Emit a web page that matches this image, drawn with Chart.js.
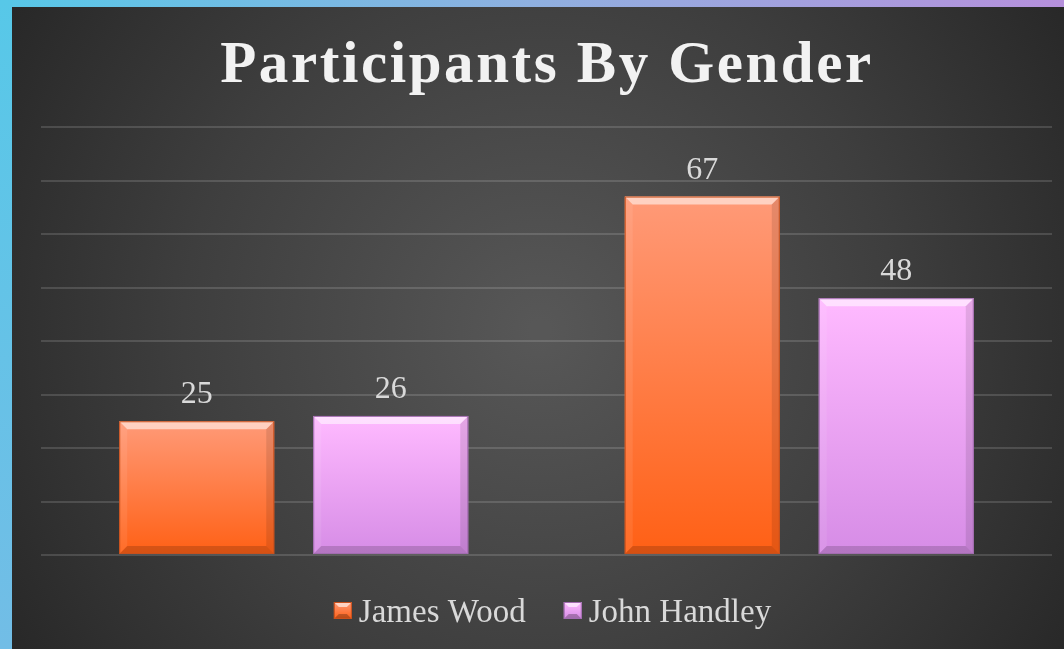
<!DOCTYPE html>
<html><head><meta charset="utf-8">
<script src="https://cdn.jsdelivr.net/npm/chart.js@4"></script>
<style>html,body{margin:0;padding:0;background:#333;overflow:hidden}#wrap{width:1064px;height:649px;position:relative}canvas{display:block}</style>
</head><body><div id="wrap"><canvas id="c" width="1064" height="649"></canvas></div>
<script>
const titleText = 'Participants By Gender';
const categories = ['Group 1', 'Group 2'];
const seriesNames = ['James Wood', 'John Handley'];
const jamesWood = [25, 67];
const johnHandley = [26, 48];
const yTicks = [0, 10, 20, 30, 40, 50, 60, 70, 80];

const palette = [
  {top: '#ff9a78', bottom: '#ff6015', solid: '#ff7436', edge: '#c9501c'},
  {top: '#ffbaff', bottom: '#d68ce6', solid: '#e7a2f2', edge: '#a26cb0'}
];

function barFill(i) {
  return function(ctx) {
    const chart = ctx.chart;
    const y = chart.scales && chart.scales.y;
    if (ctx.type !== 'data' || !y || ctx.raw == null) return palette[i].solid;
    const t = y.getPixelForValue(ctx.raw), b = y.getPixelForValue(0);
    const g = chart.ctx.createLinearGradient(0, t, 0, b);
    g.addColorStop(0, palette[i].top);
    g.addColorStop(1, palette[i].bottom);
    return g;
  };
}

const bgPlugin = {
  id: 'bg',
  beforeDraw(chart) {
    const c = chart.ctx, W = chart.width, H = chart.height;
    c.save();
    const rg = c.createRadialGradient(540, 330, 10, 540, 330, 640);
    rg.addColorStop(0, '#575757');
    rg.addColorStop(0.55, '#3e3e3e');
    rg.addColorStop(1, '#262626');
    c.fillStyle = rg;
    c.fillRect(0, 0, W, H);
    const tg = c.createLinearGradient(0, 0, W, 0);
    tg.addColorStop(0, '#57c8e8');
    tg.addColorStop(0.5, '#8fb0e0');
    tg.addColorStop(1, '#b690dc');
    c.fillStyle = tg;
    c.fillRect(0, 0, W, 7);
    const lg = c.createLinearGradient(0, 0, 0, H);
    lg.addColorStop(0, '#57c8e8');
    lg.addColorStop(1, '#72bde6');
    c.fillStyle = lg;
    c.fillRect(0, 0, 12, H);
    c.restore();
  }
};

const titlePlugin = {
  id: 'customTitle',
  afterDraw(chart) {
    const c = chart.ctx, a = chart.chartArea;
    c.save();
    c.font = 'bold 59px "Liberation Serif", serif';
    if ('letterSpacing' in c) c.letterSpacing = '2.6px';
    c.fillStyle = '#f2f2f2';
    c.textAlign = 'center';
    c.textBaseline = 'alphabetic';
    c.fillText(titleText, (a.left + a.right) / 2 + 0.5, 82);
    c.restore();
  }
};

// shift the legend block slightly right (reference legend is centred a little right of the plot)
const legendShift = {
  id: 'legendShift',
  afterLayout(chart) {
    if (chart.legend) chart.legend.left += 12;
  }
};

const bevelPlugin = {
  id: 'bevel',
  afterDatasetsDraw(chart) {
    const c = chart.ctx;
    chart.data.datasets.forEach((ds, di) => {
      const meta = chart.getDatasetMeta(di);
      meta.data.forEach((bar, i) => {
        const p = bar.getProps(['x', 'y', 'base', 'width'], true);
        const L = p.x - p.width / 2, R = p.x + p.width / 2, T = p.y, B = p.base;
        const s = 8;
        c.save();
        const poly = (pts, col) => { c.beginPath(); c.moveTo(pts[0][0], pts[0][1]); for (let k = 1; k < pts.length; k++) c.lineTo(pts[k][0], pts[k][1]); c.closePath(); c.fillStyle = col; c.fill(); };
        poly([[L, T], [R, T], [R - s, T + s], [L + s, T + s]], 'rgba(255,255,255,0.55)');
        poly([[L, T], [L + s, T + s], [L + s, B - s], [L, B]], 'rgba(255,255,255,0.08)');
        poly([[R, T], [R, B], [R - s, B - s], [R - s, T + s]], 'rgba(0,0,0,0.1)');
        poly([[L, B], [L + s, B - s], [R - s, B - s], [R, B]], 'rgba(0,0,0,0.16)');
        c.strokeStyle = palette[di].edge;
        c.lineWidth = 1;
        c.strokeRect(L + 0.5, T + 0.5, p.width - 1, B - T - 1);
        c.restore();
      });
    });
  },
  afterDraw(chart) {
    const lg = chart.legend;
    if (!lg || !lg.legendHitBoxes) return;
    const c = chart.ctx;
    const bw = 18, bh = 17;
    lg.legendHitBoxes.forEach((hb, i) => {
      const L = hb.left, T = Math.round(hb.top + (hb.height - bh) / 2) - 3, R = L + bw, B = T + bh, s = 5;
      c.save();
      const g = c.createLinearGradient(0, T, 0, B);
      g.addColorStop(0, palette[i].top);
      g.addColorStop(1, palette[i].bottom);
      c.fillStyle = g;
      c.fillRect(L, T, bw, bh);
      c.beginPath(); c.moveTo(L, T); c.lineTo(R, T); c.lineTo(R - s, T + s); c.lineTo(L + s, T + s); c.closePath();
      c.fillStyle = 'rgba(255,255,255,0.6)'; c.fill();
      c.beginPath(); c.moveTo(L, B); c.lineTo(R, B); c.lineTo(R - s, B - s); c.lineTo(L + s, B - s); c.closePath();
      c.fillStyle = 'rgba(0,0,0,0.25)'; c.fill();
      c.strokeStyle = palette[i].edge; c.lineWidth = 1;
      c.strokeRect(L + 0.5, T + 0.5, bw - 1, bh - 1);
      c.restore();
    });
  }
};

const labelPlugin = {
  id: 'valueLabels',
  afterDatasetsDraw(chart) {
    const c = chart.ctx;
    c.save();
    c.font = '32px "Liberation Serif", serif';
    c.fillStyle = '#d9d9d9';
    c.textAlign = 'center';
    c.textBaseline = 'alphabetic';
    chart.data.datasets.forEach((ds, di) => {
      chart.getDatasetMeta(di).data.forEach((bar, i) => {
        c.fillText(String(ds.data[i]), bar.x, bar.y - 18);
      });
    });
    c.restore();
  }
};

new Chart(document.getElementById('c'), {
  type: 'bar',
  data: {
    labels: categories,
    datasets: [
      {label: seriesNames[0], data: jamesWood, backgroundColor: barFill(0), borderWidth: 0},
      {label: seriesNames[1], data: johnHandley, backgroundColor: barFill(1), borderWidth: 0}
    ]
  },
  options: {
    responsive: false,
    devicePixelRatio: 1,
    animation: false,
    categoryPercentage: 0.7676,
    barPercentage: 0.799,
    layout: {padding: {top: 127, left: 41, right: 12, bottom: 9}},
    plugins: {
      title: {display: false},
      tooltip: {enabled: false},
      legend: {
        position: 'bottom',
        labels: {
          color: '#d9d9d9',
          font: {family: '"Liberation Serif", serif', size: 33},
          boxWidth: 8.5,
          boxHeight: 17,
          padding: 38,
          generateLabels(chart) {
            return chart.data.datasets.map((ds, i) => ({
              text: ds.label, fillStyle: 'rgba(0,0,0,0)', strokeStyle: 'rgba(0,0,0,0)',
              lineWidth: 0, datasetIndex: i, fontColor: '#d9d9d9', hidden: false
            }));
          }
        }
      }
    },
    scales: {
      x: {
        display: true,
        ticks: {display: false},
        grid: {display: false},
        border: {display: false},
        afterFit(scale) { scale.height = 4; }
      },
      y: {
        min: yTicks[0], max: yTicks[yTicks.length - 1],
        afterBuildTicks(scale) { scale.ticks = yTicks.map(v => ({value: v})); },
        ticks: {display: false},
        border: {display: false},
        grid: {color: 'rgba(255,255,255,0.14)', lineWidth: 2, drawTicks: false}
      }
    }
  },
  plugins: [bgPlugin, legendShift, bevelPlugin, labelPlugin, titlePlugin]
});
</script>
</body></html>
